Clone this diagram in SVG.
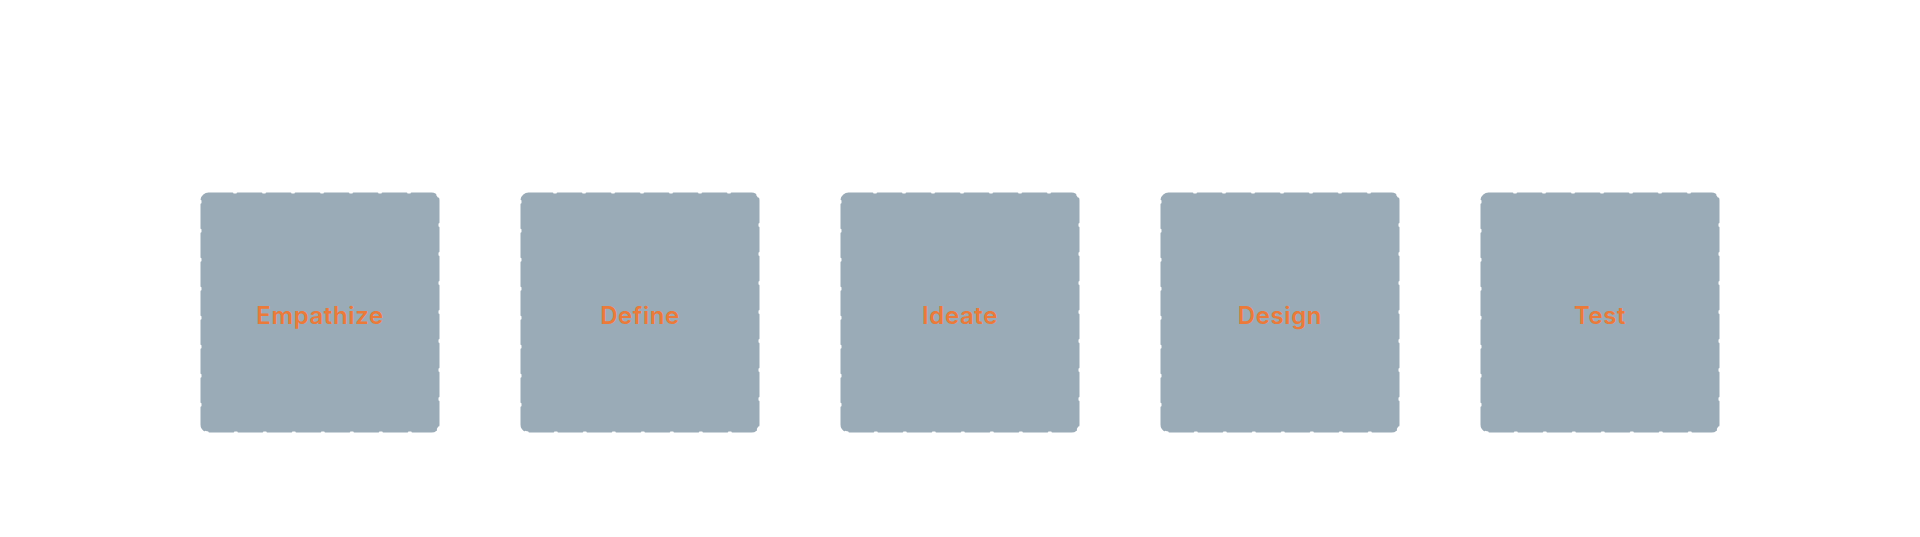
<svg xmlns="http://www.w3.org/2000/svg" width="1920" height="537" viewBox="0 0 1920 537">
<style>
.box{fill:#9aabb7;stroke:#9aabb7;stroke-width:2;stroke-dasharray:24 5;stroke-linecap:round;}
.lbl{font-family:Inter,"Open Sans","Liberation Sans",sans-serif;font-weight:600;font-size:24px;letter-spacing:0.6px;fill:#ec7a39;text-anchor:middle;}
</style>
<rect width="1920" height="537" fill="#ffffff"/>
<g id="connectors"></g>
<g id="node-empathize"><rect class="box" x="201.5" y="193.5" width="237" height="238" rx="7"/><text class="lbl" x="320" y="324">Empathize</text></g>
<g id="node-define"><rect class="box" x="521.5" y="193.5" width="237" height="238" rx="7"/><text class="lbl" x="640" y="324">Define</text></g>
<g id="node-ideate"><rect class="box" x="841.5" y="193.5" width="237" height="238" rx="7"/><text class="lbl" x="960" y="324">Ideate</text></g>
<g id="node-design"><rect class="box" x="1161.5" y="193.5" width="237" height="238" rx="7"/><text class="lbl" x="1280" y="324">Design</text></g>
<g id="node-test"><rect class="box" x="1481.5" y="193.5" width="237" height="238" rx="7"/><text class="lbl" x="1600" y="324">Test</text></g>
</svg>
